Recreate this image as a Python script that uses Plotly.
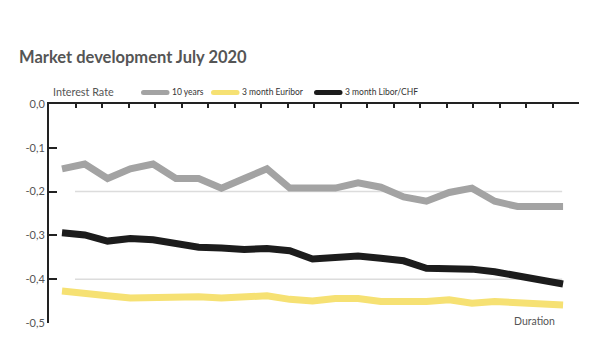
import plotly.graph_objects as go

# ---- data ----
periods = list(range(1, 24))
series_names = ["10 years", "3 month Euribor", "3 month Libor/CHF"]
ten_years = [-0.148, -0.137, -0.170, -0.148, -0.137, -0.170, -0.170, -0.192, -0.170, -0.148,
             -0.192, -0.192, -0.192, -0.180, -0.190, -0.212, -0.222, -0.202, -0.192, -0.222,
             -0.234, -0.234, -0.234]
euribor_3m = [-0.427, -0.434, -0.438, -0.443, -0.441, -0.439, -0.440, -0.443, -0.440, -0.438,
              -0.446, -0.450, -0.444, -0.444, -0.451, -0.452, -0.451, -0.447, -0.455, -0.451,
              -0.454, -0.457, -0.459]
libor_chf_3m = [-0.294, -0.299, -0.313, -0.307, -0.310, -0.320, -0.327, -0.329, -0.332, -0.330,
                -0.335, -0.354, -0.352, -0.347, -0.352, -0.358, -0.375, -0.375, -0.377, -0.383,
                -0.393, -0.402, -0.411]
y_tickvals = [0.0, -0.1, -0.2, -0.3, -0.4, -0.5]
y_ticktext = ["0,0", "-0,1", "-0,2", "-0,3", "-0,4", "-0,5"]
grid_values = [-0.2, -0.4]
n_top_intervals = 20

colors = ["#a3a3a3", "#f6e173", "#1c1c1c"]
values = [ten_years, euribor_3m, libor_chf_3m]

# layout geometry (pixels)
W, H = 600, 361
ML, MR, MT, MB = 49, 21, 104, 38
PW, PH = W - ML - MR, H - MT - MB


def px_x(px):
    return (px - ML) / PW


def px_y(py):
    return (H - MB - py) / PH


x_range = [0.429, 23.70]
top_tickvals = [x_range[0] + (x_range[1] - x_range[0]) * k / n_top_intervals
                for k in range(n_top_intervals + 1)]

fig = go.Figure()
for name, vals, col in zip(series_names, values, colors):
    fig.add_trace(go.Scatter(
        x=periods, y=vals, name=name, mode="lines",
        line=dict(color=col, width=7),
        hoverinfo="skip", showlegend=False,
    ))

shapes = []
for gv in grid_values:
    shapes.append(dict(type="line", xref="x", yref="y", x0=1.57, x1=22.96, y0=gv, y1=gv,
                       line=dict(color="#dcdcdc", width=1.5), layer="below"))

# manual legend (swatch start pixel)
legend_swatch_x = [141, 211, 314]
legend_y = 92.5
annotations = []
for name, col, sx in zip(series_names, colors, legend_swatch_x):
    shapes.append(dict(type="line", xref="paper", yref="paper",
                       x0=px_x(sx + 2.5), x1=px_x(sx + 26), y0=px_y(legend_y), y1=px_y(legend_y),
                       line=dict(color=col, width=5)))
    shapes.append(dict(type="circle", xref="paper", yref="paper",
                       x0=px_x(sx), x1=px_x(sx + 5), y0=px_y(legend_y + 2.5), y1=px_y(legend_y - 2.5),
                       line=dict(width=0), fillcolor=col))
    shapes.append(dict(type="circle", xref="paper", yref="paper",
                       x0=px_x(sx + 23.5), x1=px_x(sx + 28.5), y0=px_y(legend_y + 2.5), y1=px_y(legend_y - 2.5),
                       line=dict(width=0), fillcolor=col))
    annotations.append(dict(text=name, x=px_x(sx + 29), y=px_y(legend_y - 0.5), xref="paper", yref="paper",
                            showarrow=False, xanchor="left", yanchor="middle",
                            font=dict(size=8.5, color="#333333", family="Lato")))

annotations += [
    dict(text="Interest Rate", x=px_x(51), y=px_y(91.5), xref="paper", yref="paper",
         showarrow=False, xanchor="left", yanchor="middle",
         font=dict(size=10.8, color="#555555", family="Lato")),
    dict(text="Duration", x=px_x(557), y=px_y(320.5), xref="paper", yref="paper",
         showarrow=False, xanchor="right", yanchor="middle",
         font=dict(size=10.5, color="#555555", family="Lato")),
]

fig.update_layout(
    width=W, height=H,
    paper_bgcolor="white", plot_bgcolor="white",
    margin=dict(l=ML, r=MR, t=MT, b=MB, autoexpand=False),
    font=dict(family="Lato", color="#555555"),
    title=dict(text="<b>Market development July 2020</b>", x=19 / W, xref="container", xanchor="left",
               y=1 - 57 / H, yref="container", yanchor="middle",
               font=dict(size=16.5, color="#555555", family="Lato")),
    showlegend=False,
    xaxis=dict(range=x_range, side="top", tickmode="array", tickvals=top_tickvals,
               ticks="inside", ticklen=4, tickwidth=2, tickcolor="#222222",
               showline=True, linewidth=2, linecolor="#222222",
               showticklabels=False, showgrid=False, zeroline=False),
    yaxis=dict(range=[-0.5, 0], tickmode="array", tickvals=y_tickvals, ticktext=y_ticktext,
               ticks="inside", ticklen=8, tickwidth=2, tickcolor="#222222",
               showline=True, linewidth=2, linecolor="#222222",
               showgrid=False, zeroline=False,
               tickfont=dict(size=11, color="#555555", family="Lato")),
    shapes=shapes,
    annotations=annotations,
)

fig.write_html("out.html", config={"displayModeBar": False},
               post_script="document.body.style.margin='0px';")
